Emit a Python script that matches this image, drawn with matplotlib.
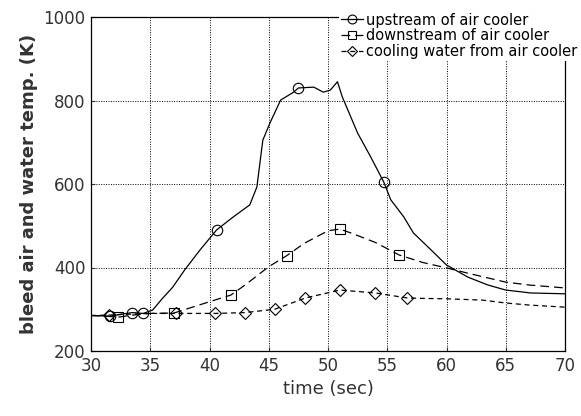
import matplotlib
matplotlib.use("Agg")
import matplotlib.pyplot as plt

# upstream of air cooler (solid, circles)
t_up = [30, 31, 31.6, 32.5, 33.5, 34.4, 35.2, 36, 36.9, 37.9, 39.2, 40.6, 42.0, 43.4,
        44.0, 44.5, 45.1, 46.0, 47.1, 47.5, 48.8, 49.6, 50.2, 50.8, 51.2, 52.5, 53.6,
        54.7, 55.3, 56.4, 57.2, 58.7, 60.0, 61.8, 63.5, 65.0, 67.1, 70]
T_up = [285, 284, 283, 288, 292, 290, 298, 325, 353, 394, 442, 490, 521, 550,
        593, 705, 746, 801, 820, 830, 832, 820, 825, 845, 809, 722, 665,
        605, 562, 521, 483, 442, 406, 377, 358, 346, 339, 337]
mk_up = [2, 4, 5, 11, 19, 27]

# downstream of air cooler (dashed, squares)
t_dn = [30, 31, 32.3, 33.5, 35, 37, 38, 40, 41.8, 43, 44, 45, 46.5, 48, 50, 51, 52,
        54, 56, 58, 60, 62, 65, 67, 70]
T_dn = [285, 284, 281, 286, 290, 291, 300, 318, 334, 358, 380, 402, 428, 458, 488, 492, 482,
        460, 430, 412, 399, 385, 365, 358, 351]
mk_dn = [2, 5, 8, 12, 15, 18]

# cooling water from air cooler (short dashes, diamonds)
t_cw = [30, 31.5, 33, 35, 37.2, 40.5, 43, 45.5, 48.1, 51.0, 54.0, 56.7, 58, 60, 63, 65, 67, 70]
T_cw = [285, 286, 288, 290, 290, 290, 292, 300, 327, 346, 339, 327, 326, 325, 322, 315, 310, 305]
mk_cw = [1, 4, 5, 6, 7, 8, 9, 10, 11]

xticks = [30, 35, 40, 45, 50, 55, 60, 65, 70]
yticks = [200, 400, 600, 800, 1000]

fig = plt.figure(figsize=(5.81, 4.16), dpi=100)
ax = fig.add_axes([91 / 581, 1 - 351 / 416, (565 - 91) / 581, (351 - 17) / 416])

mkw = dict(color="black", markerfacecolor="none", markeredgecolor="black",
           markersize=7.5, linewidth=0.9, markeredgewidth=0.8)
ax.plot(t_up, T_up, "-", marker="o", markevery=mk_up,
        label="upstream of air cooler", **mkw)
ax.plot(t_dn, T_dn, linestyle=(0, (7, 4)), marker="s", markevery=mk_dn,
        label="downstream of air cooler", **mkw)
ax.plot(t_cw, T_cw, linestyle=(0, (4, 3)), marker="D", markevery=mk_cw,
        label="cooling water from air cooler", **{**mkw, "markersize": 6})

ax.set_xlim(30, 70)
ax.set_ylim(200, 1000)
ax.set_xticks(xticks)
ax.set_yticks(yticks)
ax.tick_params(direction="in", length=3, labelsize=12, colors="#333333", pad=4)
ax.grid(True, color="black", linestyle=(0, (1, 1.5)), linewidth=0.7)
for s in ax.spines.values():
    s.set_linewidth(0.9)

ax.set_xlabel("time (sec)", fontsize=13, color="#333333")
ax.set_ylabel("bleed air and water temp. (K)", fontsize=13, fontweight="bold",
              color="#333333")

leg = ax.legend(loc="upper right", bbox_to_anchor=(1.03, 1.02), frameon=True,
                prop={"size": 10.5, "family": "Liberation Sans Narrow"},
                handlelength=1.5, handletextpad=0.2, labelspacing=0.05,
                borderpad=0.15, borderaxespad=0.0, markerscale=0.85)
leg.get_frame().set_edgecolor("none")
leg.get_frame().set_facecolor("white")
leg.get_frame().set_alpha(1.0)

fig.savefig("out.png", dpi=100)
